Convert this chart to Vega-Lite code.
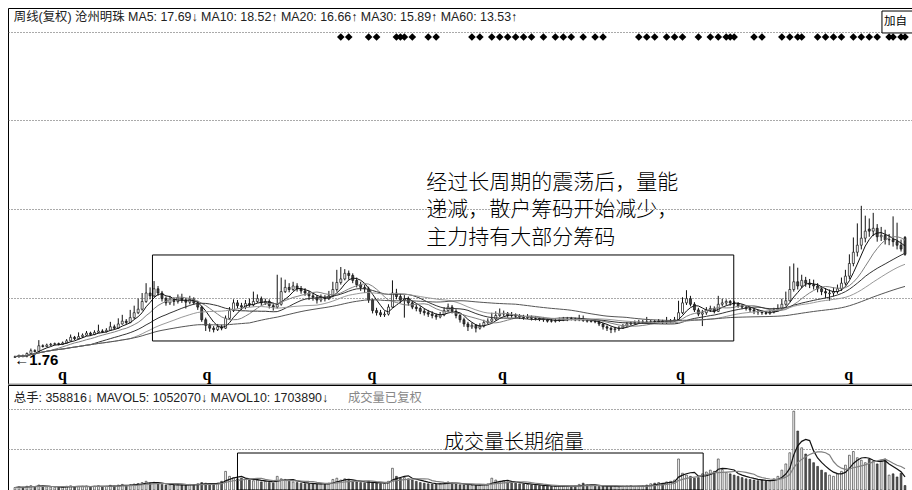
{
"$schema": "https://vega.github.io/schema/vega-lite/v6.json",
"padding": {"left": 7, "top": 7, "right": 1, "bottom": 1},
"background": "white",
"spacing": 1,
"bounds": "flush",
"config": {"view": {"stroke": "#000", "strokeWidth": 1}, "text": {"font": "Liberation Sans, Noto Sans CJK SC"}},
"datasets": {
"k": [
{"t":0,"o":1.85,"h":2.1,"l":1.76,"c":1.95,"v":20},
{"t":1,"o":1.95,"h":2.25,"l":1.8,"c":2.1,"v":25},
{"t":2,"o":2.1,"h":2.25,"l":1.85,"c":2.0,"v":22},
{"t":3,"o":2.0,"h":2.55,"l":1.85,"c":2.4,"v":30},
{"t":4,"o":2.4,"h":3.1,"l":2.3,"c":2.8,"v":35},
{"t":5,"o":2.8,"h":3.0,"l":2.55,"c":2.7,"v":28},
{"t":6,"o":2.7,"h":4.3,"l":2.6,"c":3.5,"v":40},
{"t":7,"o":3.5,"h":3.7,"l":3.25,"c":3.4,"v":30},
{"t":8,"o":3.4,"h":3.8,"l":3.3,"c":3.6,"v":26},
{"t":9,"o":3.6,"h":3.9,"l":3.45,"c":3.7,"v":24},
{"t":10,"o":3.7,"h":3.95,"l":3.55,"c":3.8,"v":22},
{"t":11,"o":3.8,"h":3.95,"l":3.55,"c":3.7,"v":20},
{"t":12,"o":3.7,"h":4.1,"l":3.6,"c":3.9,"v":26},
{"t":13,"o":3.9,"h":4.45,"l":3.8,"c":4.2,"v":30},
{"t":14,"o":4.2,"h":5.1,"l":4.1,"c":4.7,"v":34},
{"t":15,"o":4.7,"h":4.9,"l":4.3,"c":4.5,"v":25},
{"t":16,"o":4.5,"h":5.4,"l":4.4,"c":4.8,"v":28},
{"t":17,"o":4.8,"h":5.25,"l":4.6,"c":5.0,"v":30},
{"t":18,"o":5.0,"h":5.6,"l":4.9,"c":5.3,"v":32},
{"t":19,"o":5.3,"h":5.5,"l":4.9,"c":5.1,"v":26},
{"t":20,"o":5.1,"h":5.7,"l":5.0,"c":5.4,"v":30},
{"t":21,"o":5.4,"h":6.5,"l":5.3,"c":5.6,"v":34},
{"t":22,"o":5.6,"h":5.85,"l":5.3,"c":5.5,"v":28},
{"t":23,"o":5.5,"h":6.0,"l":5.4,"c":5.7,"v":30},
{"t":24,"o":5.7,"h":6.9,"l":5.6,"c":6.2,"v":38},
{"t":25,"o":6.2,"h":6.5,"l":5.8,"c":6.0,"v":32},
{"t":26,"o":6.0,"h":7.4,"l":5.9,"c":6.6,"v":40},
{"t":27,"o":6.6,"h":7.9,"l":6.5,"c":7.0,"v":45},
{"t":28,"o":7.0,"h":7.3,"l":6.5,"c":6.8,"v":36},
{"t":29,"o":6.8,"h":8.6,"l":6.7,"c":7.5,"v":42},
{"t":30,"o":7.5,"h":9.2,"l":7.3,"c":8.2,"v":48},
{"t":31,"o":8.2,"h":10.2,"l":8.0,"c":8.7,"v":52},
{"t":32,"o":8.7,"h":11.0,"l":8.5,"c":9.8,"v":60},
{"t":33,"o":9.8,"h":12.4,"l":9.6,"c":11.0,"v":70},
{"t":34,"o":11.0,"h":11.8,"l":10.1,"c":10.6,"v":55},
{"t":35,"o":10.6,"h":12.7,"l":10.4,"c":11.6,"v":62},
{"t":36,"o":11.6,"h":12.0,"l":10.6,"c":11.0,"v":50},
{"t":37,"o":11.0,"h":11.3,"l":9.8,"c":10.2,"v":45},
{"t":38,"o":10.2,"h":10.5,"l":9.2,"c":9.6,"v":40},
{"t":39,"o":9.6,"h":10.6,"l":9.3,"c":10.1,"v":42},
{"t":40,"o":10.1,"h":10.4,"l":9.2,"c":9.8,"v":38},
{"t":41,"o":9.8,"h":10.8,"l":9.5,"c":10.3,"v":44},
{"t":42,"o":10.3,"h":10.9,"l":9.6,"c":10.0,"v":40},
{"t":43,"o":10.0,"h":10.3,"l":8.8,"c":9.7,"v":36},
{"t":44,"o":9.7,"h":10.6,"l":9.4,"c":10.1,"v":45},
{"t":45,"o":10.1,"h":10.4,"l":9.3,"c":9.6,"v":42},
{"t":46,"o":9.6,"h":9.9,"l":8.6,"c":9.0,"v":50},
{"t":47,"o":9.0,"h":9.2,"l":6.9,"c":7.2,"v":60},
{"t":48,"o":7.2,"h":7.5,"l":5.6,"c":6.4,"v":55},
{"t":49,"o":6.4,"h":6.7,"l":5.5,"c":6.0,"v":48},
{"t":50,"o":6.0,"h":6.3,"l":5.4,"c":5.8,"v":45},
{"t":51,"o":5.8,"h":6.6,"l":5.6,"c":6.2,"v":55},
{"t":52,"o":6.2,"h":6.5,"l":5.7,"c":6.0,"v":70},
{"t":53,"o":6.0,"h":7.8,"l":5.9,"c":7.4,"v":150},
{"t":54,"o":7.4,"h":9.0,"l":7.2,"c":8.5,"v":110},
{"t":55,"o":8.5,"h":10.1,"l":8.3,"c":9.6,"v":100},
{"t":56,"o":9.6,"h":10.0,"l":8.8,"c":9.2,"v":90},
{"t":57,"o":9.2,"h":9.6,"l":8.6,"c":9.0,"v":95},
{"t":58,"o":9.0,"h":10.0,"l":8.7,"c":9.5,"v":85},
{"t":59,"o":9.5,"h":10.2,"l":9.0,"c":9.3,"v":80},
{"t":60,"o":9.3,"h":11.2,"l":9.1,"c":9.8,"v":75},
{"t":61,"o":9.8,"h":10.8,"l":9.6,"c":10.2,"v":80},
{"t":62,"o":10.2,"h":10.5,"l":9.2,"c":9.6,"v":65},
{"t":63,"o":9.6,"h":10.2,"l":9.3,"c":9.8,"v":70},
{"t":64,"o":9.8,"h":10.1,"l":8.8,"c":9.2,"v":60},
{"t":65,"o":9.2,"h":9.6,"l":8.5,"c":9.0,"v":55},
{"t":66,"o":9.0,"h":13.6,"l":8.8,"c":9.4,"v":110},
{"t":67,"o":9.4,"h":13.2,"l":9.2,"c":11.2,"v":90},
{"t":68,"o":11.2,"h":12.9,"l":11.0,"c":11.8,"v":85},
{"t":69,"o":11.8,"h":12.4,"l":11.1,"c":11.5,"v":70},
{"t":70,"o":11.5,"h":12.6,"l":11.3,"c":12.0,"v":65},
{"t":71,"o":12.0,"h":12.4,"l":11.2,"c":11.6,"v":60},
{"t":72,"o":11.6,"h":12.0,"l":10.9,"c":11.3,"v":55},
{"t":73,"o":11.3,"h":11.7,"l":10.6,"c":11.0,"v":50},
{"t":74,"o":11.0,"h":11.3,"l":10.0,"c":10.6,"v":48},
{"t":75,"o":10.6,"h":11.0,"l":9.9,"c":10.4,"v":52},
{"t":76,"o":10.4,"h":10.7,"l":9.5,"c":10.0,"v":45},
{"t":77,"o":10.0,"h":10.8,"l":9.7,"c":10.3,"v":50},
{"t":78,"o":10.3,"h":10.7,"l":9.8,"c":10.2,"v":46},
{"t":79,"o":10.2,"h":11.3,"l":10.0,"c":10.6,"v":55},
{"t":80,"o":10.6,"h":12.6,"l":10.4,"c":11.5,"v":85},
{"t":81,"o":11.5,"h":14.3,"l":11.2,"c":12.5,"v":95},
{"t":82,"o":12.5,"h":14.7,"l":12.2,"c":13.0,"v":80},
{"t":83,"o":13.0,"h":14.4,"l":12.8,"c":13.8,"v":90},
{"t":84,"o":13.8,"h":14.2,"l":12.9,"c":13.5,"v":75},
{"t":85,"o":13.5,"h":13.8,"l":12.4,"c":12.8,"v":70},
{"t":86,"o":12.8,"h":13.2,"l":11.8,"c":12.2,"v":65},
{"t":87,"o":12.2,"h":12.6,"l":11.3,"c":11.8,"v":60},
{"t":88,"o":11.8,"h":12.2,"l":11.0,"c":11.6,"v":55},
{"t":89,"o":11.6,"h":11.9,"l":9.6,"c":10.0,"v":70},
{"t":90,"o":10.0,"h":10.2,"l":8.1,"c":8.5,"v":60},
{"t":91,"o":8.5,"h":8.9,"l":7.8,"c":8.2,"v":55},
{"t":92,"o":8.2,"h":8.6,"l":7.6,"c":7.9,"v":50},
{"t":93,"o":7.9,"h":8.4,"l":7.6,"c":8.0,"v":52},
{"t":94,"o":8.0,"h":9.4,"l":7.8,"c":9.0,"v":70},
{"t":95,"o":9.0,"h":12.8,"l":8.9,"c":11.0,"v":175},
{"t":96,"o":11.0,"h":11.6,"l":10.1,"c":10.5,"v":110},
{"t":97,"o":10.5,"h":10.9,"l":9.6,"c":10.0,"v":95},
{"t":98,"o":10.0,"h":10.7,"l":7.5,"c":10.2,"v":100},
{"t":99,"o":10.2,"h":10.5,"l":9.2,"c":9.6,"v":90},
{"t":100,"o":9.6,"h":9.9,"l":8.7,"c":9.0,"v":80},
{"t":101,"o":9.0,"h":9.4,"l":8.4,"c":8.8,"v":70},
{"t":102,"o":8.8,"h":9.1,"l":8.0,"c":8.4,"v":60},
{"t":103,"o":8.4,"h":8.8,"l":7.8,"c":8.2,"v":55},
{"t":104,"o":8.2,"h":8.6,"l":7.6,"c":8.0,"v":50},
{"t":105,"o":8.0,"h":8.4,"l":7.4,"c":7.8,"v":48},
{"t":106,"o":7.8,"h":8.1,"l":7.2,"c":7.6,"v":45},
{"t":107,"o":7.6,"h":8.3,"l":7.4,"c":7.9,"v":52},
{"t":108,"o":7.9,"h":9.0,"l":7.7,"c":8.5,"v":60},
{"t":109,"o":8.5,"h":9.5,"l":8.3,"c":9.0,"v":65},
{"t":110,"o":9.0,"h":9.3,"l":8.1,"c":8.4,"v":55},
{"t":111,"o":8.4,"h":8.7,"l":7.4,"c":7.8,"v":48},
{"t":112,"o":7.8,"h":8.0,"l":6.8,"c":7.2,"v":42},
{"t":113,"o":7.2,"h":7.5,"l":6.2,"c":6.6,"v":40},
{"t":114,"o":6.6,"h":6.9,"l":5.6,"c":6.2,"v":45},
{"t":115,"o":6.2,"h":6.8,"l":5.9,"c":6.4,"v":38},
{"t":116,"o":6.4,"h":6.6,"l":5.4,"c":6.0,"v":35},
{"t":117,"o":6.0,"h":6.7,"l":5.8,"c":6.3,"v":40},
{"t":118,"o":6.3,"h":7.2,"l":6.1,"c":6.8,"v":45},
{"t":119,"o":6.8,"h":7.4,"l":6.6,"c":7.0,"v":50},
{"t":120,"o":7.0,"h":8.2,"l":6.8,"c":7.3,"v":95},
{"t":121,"o":7.3,"h":8.4,"l":7.1,"c":7.8,"v":80},
{"t":122,"o":7.8,"h":8.8,"l":7.6,"c":8.0,"v":70},
{"t":123,"o":8.0,"h":8.5,"l":7.7,"c":8.1,"v":75},
{"t":124,"o":8.1,"h":8.3,"l":7.5,"c":7.8,"v":65},
{"t":125,"o":7.85,"h":8.3,"l":7.5,"c":7.8,"v":60},
{"t":126,"o":7.8,"h":8.1,"l":7.4,"c":7.7,"v":55},
{"t":127,"o":7.7,"h":8.0,"l":7.3,"c":7.6,"v":50},
{"t":128,"o":7.6,"h":7.9,"l":7.2,"c":7.5,"v":48},
{"t":129,"o":7.5,"h":8.0,"l":7.3,"c":7.6,"v":45},
{"t":130,"o":7.6,"h":7.8,"l":7.1,"c":7.4,"v":40},
{"t":131,"o":7.45,"h":7.7,"l":7.1,"c":7.4,"v":38},
{"t":132,"o":7.4,"h":7.6,"l":7.0,"c":7.3,"v":35},
{"t":133,"o":7.3,"h":7.6,"l":6.9,"c":7.2,"v":32},
{"t":134,"o":7.2,"h":7.4,"l":6.8,"c":7.0,"v":30},
{"t":135,"o":7.05,"h":7.3,"l":6.8,"c":7.0,"v":28},
{"t":136,"o":7.0,"h":7.4,"l":6.8,"c":7.1,"v":30},
{"t":137,"o":7.1,"h":7.5,"l":6.9,"c":7.2,"v":32},
{"t":138,"o":7.2,"h":7.6,"l":7.0,"c":7.3,"v":35},
{"t":139,"o":7.25,"h":7.6,"l":7.0,"c":7.3,"v":30},
{"t":140,"o":7.35,"h":7.6,"l":7.1,"c":7.3,"v":28},
{"t":141,"o":7.3,"h":7.5,"l":7.0,"c":7.2,"v":30},
{"t":142,"o":7.2,"h":7.9,"l":7.0,"c":7.3,"v":45},
{"t":143,"o":7.3,"h":7.8,"l":6.9,"c":7.1,"v":55},
{"t":144,"o":7.1,"h":7.3,"l":6.8,"c":7.0,"v":40},
{"t":145,"o":6.95,"h":7.2,"l":6.8,"c":7.0,"v":35},
{"t":146,"o":7.0,"h":7.2,"l":6.7,"c":6.9,"v":30},
{"t":147,"o":6.9,"h":7.0,"l":6.3,"c":6.6,"v":28},
{"t":148,"o":6.6,"h":6.7,"l":5.8,"c":6.2,"v":32},
{"t":149,"o":6.2,"h":6.4,"l":5.6,"c":6.0,"v":35},
{"t":150,"o":6.0,"h":6.2,"l":5.3,"c":5.8,"v":30},
{"t":151,"o":5.8,"h":6.2,"l":5.4,"c":5.9,"v":28},
{"t":152,"o":5.9,"h":6.3,"l":5.6,"c":6.0,"v":25},
{"t":153,"o":6.0,"h":6.6,"l":5.9,"c":6.3,"v":30},
{"t":154,"o":6.3,"h":6.9,"l":6.2,"c":6.6,"v":32},
{"t":155,"o":6.6,"h":7.0,"l":6.4,"c":6.7,"v":35},
{"t":156,"o":6.7,"h":7.1,"l":6.5,"c":6.8,"v":30},
{"t":157,"o":6.8,"h":7.2,"l":6.6,"c":6.9,"v":28},
{"t":158,"o":6.85,"h":7.2,"l":6.6,"c":6.9,"v":32},
{"t":159,"o":6.9,"h":7.6,"l":6.6,"c":6.8,"v":40},
{"t":160,"o":6.8,"h":7.2,"l":6.6,"c":6.9,"v":50},
{"t":161,"o":6.95,"h":7.2,"l":6.6,"c":6.9,"v":55},
{"t":162,"o":6.9,"h":7.3,"l":6.7,"c":7.0,"v":60},
{"t":163,"o":7.0,"h":7.2,"l":6.6,"c":6.9,"v":55},
{"t":164,"o":6.85,"h":7.6,"l":6.6,"c":6.9,"v":65},
{"t":165,"o":6.9,"h":7.3,"l":6.7,"c":7.0,"v":70},
{"t":166,"o":7.0,"h":7.6,"l":6.9,"c":7.2,"v":80},
{"t":167,"o":7.2,"h":9.9,"l":7.1,"c":8.2,"v":250},
{"t":168,"o":8.2,"h":10.4,"l":8.0,"c":9.6,"v":135},
{"t":169,"o":9.6,"h":11.4,"l":9.3,"c":10.2,"v":120},
{"t":170,"o":10.2,"h":10.6,"l":9.1,"c":9.4,"v":110},
{"t":171,"o":9.4,"h":9.7,"l":8.3,"c":8.6,"v":95},
{"t":172,"o":8.6,"h":8.9,"l":7.7,"c":8.0,"v":100},
{"t":173,"o":8.0,"h":8.6,"l":6.3,"c":8.2,"v":130},
{"t":174,"o":8.2,"h":9.0,"l":7.9,"c":8.6,"v":145},
{"t":175,"o":8.6,"h":9.2,"l":8.3,"c":8.8,"v":160},
{"t":176,"o":8.8,"h":9.1,"l":8.1,"c":8.4,"v":150},
{"t":177,"o":8.4,"h":10.6,"l":8.3,"c":9.4,"v":250},
{"t":178,"o":9.4,"h":10.2,"l":9.1,"c":9.6,"v":165},
{"t":179,"o":9.6,"h":10.1,"l":9.3,"c":9.8,"v":140},
{"t":180,"o":9.8,"h":10.0,"l":9.2,"c":9.6,"v":130},
{"t":181,"o":9.6,"h":9.9,"l":9.2,"c":9.5,"v":120},
{"t":182,"o":9.5,"h":9.7,"l":8.9,"c":9.2,"v":110},
{"t":183,"o":9.2,"h":9.4,"l":8.7,"c":9.0,"v":100},
{"t":184,"o":9.0,"h":9.2,"l":8.5,"c":8.8,"v":90},
{"t":185,"o":8.8,"h":9.0,"l":8.3,"c":8.6,"v":85},
{"t":186,"o":8.6,"h":8.8,"l":8.0,"c":8.4,"v":80},
{"t":187,"o":8.4,"h":8.6,"l":7.9,"c":8.3,"v":75},
{"t":188,"o":8.3,"h":8.5,"l":7.9,"c":8.2,"v":80},
{"t":189,"o":8.2,"h":8.4,"l":7.9,"c":8.1,"v":70},
{"t":190,"o":8.1,"h":8.6,"l":7.9,"c":8.3,"v":75},
{"t":191,"o":8.3,"h":8.9,"l":8.1,"c":8.6,"v":90},
{"t":192,"o":8.6,"h":9.4,"l":8.4,"c":8.8,"v":110},
{"t":193,"o":8.8,"h":10.2,"l":8.6,"c":9.4,"v":160},
{"t":194,"o":9.4,"h":11.2,"l":9.2,"c":9.9,"v":210},
{"t":195,"o":9.9,"h":14.8,"l":9.8,"c":11.5,"v":300},
{"t":196,"o":11.5,"h":15.2,"l":11.2,"c":12.6,"v":635},
{"t":197,"o":12.6,"h":14.6,"l":11.5,"c":12.0,"v":475},
{"t":198,"o":12.0,"h":13.6,"l":11.7,"c":12.8,"v":340},
{"t":199,"o":12.8,"h":13.3,"l":11.9,"c":12.4,"v":290},
{"t":200,"o":12.4,"h":13.0,"l":11.7,"c":12.2,"v":250},
{"t":201,"o":12.2,"h":12.9,"l":11.5,"c":12.0,"v":220},
{"t":202,"o":12.0,"h":12.4,"l":11.1,"c":11.6,"v":190},
{"t":203,"o":11.6,"h":12.0,"l":10.7,"c":11.2,"v":160},
{"t":204,"o":11.2,"h":11.7,"l":10.3,"c":11.0,"v":140},
{"t":205,"o":10.9,"h":11.5,"l":9.9,"c":11.0,"v":120},
{"t":206,"o":11.0,"h":11.8,"l":10.5,"c":11.2,"v":110},
{"t":207,"o":11.2,"h":12.2,"l":10.9,"c":11.6,"v":130},
{"t":208,"o":11.6,"h":13.2,"l":11.3,"c":12.4,"v":150},
{"t":209,"o":12.4,"h":14.3,"l":12.1,"c":13.4,"v":200},
{"t":210,"o":13.4,"h":16.5,"l":13.0,"c":15.2,"v":280},
{"t":211,"o":15.2,"h":18.9,"l":14.8,"c":16.8,"v":310},
{"t":212,"o":16.8,"h":20.9,"l":16.2,"c":17.8,"v":260},
{"t":213,"o":17.8,"h":23.4,"l":17.2,"c":18.8,"v":240},
{"t":214,"o":18.8,"h":22.0,"l":18.2,"c":19.8,"v":220},
{"t":215,"o":20.1,"h":21.6,"l":19.0,"c":19.8,"v":250},
{"t":216,"o":19.8,"h":22.4,"l":19.1,"c":20.2,"v":230},
{"t":217,"o":20.2,"h":20.8,"l":18.3,"c":19.0,"v":210},
{"t":218,"o":19.0,"h":20.4,"l":18.4,"c":19.2,"v":240},
{"t":219,"o":19.2,"h":20.0,"l":17.9,"c":18.55,"v":250},
{"t":220,"o":18.55,"h":19.4,"l":17.8,"c":18.6,"v":120},
{"t":221,"o":18.6,"h":21.9,"l":17.6,"c":18.3,"v":130},
{"t":222,"o":18.3,"h":21.0,"l":17.2,"c":17.8,"v":105},
{"t":223,"o":17.8,"h":18.6,"l":16.9,"c":17.25,"v":135},
{"t":224,"o":18.9,"h":19.1,"l":16.3,"c":16.5,"v":36}
],
"sig": [{"t":82},{"t":84},{"t":89},{"t":91},{"t":96},{"t":97},{"t":98},{"t":100},{"t":104},{"t":106},{"t":115},{"t":117},{"t":120},{"t":122},{"t":124},{"t":126},{"t":128},{"t":130},{"t":133},{"t":136},{"t":138},{"t":140},{"t":143},{"t":146},{"t":148},{"t":157},{"t":159},{"t":161},{"t":164},{"t":166},{"t":168},{"t":172},{"t":175},{"t":177},{"t":179},{"t":180},{"t":181},{"t":186},{"t":188},{"t":193},{"t":195},{"t":197},{"t":198},{"t":202},{"t":204},{"t":206},{"t":208},{"t":211},{"t":213},{"t":215},{"t":217},{"t":220},{"t":221},{"t":223},{"t":224}],
"qm": [{"t":11.94},{"t":48.3},{"t":89.85},{"t":122.7},{"t":167.5},{"t":209.8}]
},
"vconcat": [
{
"width": 904, "height": 376,
"layer": [
{"data": {"name": "k"}, "mark": {"type": "rule", "color": "#111", "strokeWidth": 1},
 "encoding": {
  "x": {"field": "t", "type": "quantitative", "scale": {"domain": [-0.5, 224.5], "nice": false, "zero": false}, "axis": {"title": null, "labels": false, "ticks": false, "grid": false, "domainColor": "#999", "domainWidth": 2}},
  "y": {"field": "l", "type": "quantitative", "scale": {"domain": [-1.937, 51.53], "nice": false, "zero": false}, "axis": {"title": null, "labels": false, "ticks": false, "domain": false, "grid": true, "values": [10.29, 22.95, 35.6, 48.12], "gridColor": "#555", "gridDash": [1, 2], "gridWidth": 1}},
  "y2": {"field": "h"}
 }},
{"data": {"name": "k"}, "mark": {"type": "bar", "width": 2, "stroke": "#111", "strokeWidth": 0.7},
 "encoding": {
  "x": {"field": "t", "type": "quantitative"},
  "y": {"field": "o", "type": "quantitative"},
  "y2": {"field": "c"},
  "fill": {"condition": {"test": "datum.c >= datum.o", "value": "#ffffff"}, "value": "#444444"}
 }},
{"data": {"name": "k"},
 "transform": [
  {"window": [{"op": "mean", "field": "c", "as": "MA5"}], "frame": [-4, 0], "sort": [{"field": "t"}]},
  {"window": [{"op": "mean", "field": "c", "as": "MA10"}], "frame": [-9, 0], "sort": [{"field": "t"}]},
  {"window": [{"op": "mean", "field": "c", "as": "MA20"}], "frame": [-19, 0], "sort": [{"field": "t"}]},
  {"window": [{"op": "mean", "field": "c", "as": "MA30"}], "frame": [-29, 0], "sort": [{"field": "t"}]},
  {"window": [{"op": "mean", "field": "c", "as": "MA60"}], "frame": [-59, 0], "sort": [{"field": "t"}]},
  {"fold": ["MA5", "MA10", "MA20", "MA30", "MA60"], "as": ["ma", "val"]}
 ],
 "mark": {"type": "line", "strokeWidth": 1},
 "encoding": {
  "x": {"field": "t", "type": "quantitative"},
  "y": {"field": "val", "type": "quantitative"},
  "color": {"field": "ma", "type": "nominal", "scale": {"domain": ["MA5", "MA10", "MA20", "MA30", "MA60"], "range": ["#111111", "#808080", "#333333", "#999999", "#555555"]}, "legend": null},
  "strokeWidth": {"field": "ma", "type": "nominal", "scale": {"domain": ["MA5", "MA10", "MA20", "MA30", "MA60"], "range": [1, 1.4, 1, 1.4, 1.4]}, "legend": null}
 }},
{"data": {"name": "sig"}, "mark": {"type": "point", "shape": "diamond", "filled": true, "color": "#000", "size": 58, "opacity": 1},
 "encoding": {
  "x": {"field": "t", "type": "quantitative"},
  "y": {"datum": 47.4, "type": "quantitative"}
 }},
{"data": {"name": "qm"}, "mark": {"type": "text", "text": "q", "font": "Liberation Serif", "fontWeight": "bold", "fontSize": 16, "align": "center", "baseline": "alphabetic", "color": "#000"},
 "encoding": {
  "x": {"field": "t", "type": "quantitative"},
  "y": {"datum": -1.37, "type": "quantitative"}
 }},
{"data": {"values": [{}]}, "mark": {"type": "rect", "fill": null, "fillOpacity": 0, "stroke": "#000", "strokeWidth": 1},
 "encoding": {
  "x": {"datum": 34.6, "type": "quantitative"}, "x2": {"datum": 180.9},
  "y": {"datum": 4.18, "type": "quantitative"}, "y2": {"datum": 16.41}
 }},
{"data": {"values": [{}]}, "mark": {"type": "text", "text": ["经过长周期的震荡后，量能", "递减，散户筹码开始减少，", "主力持有大部分筹码"], "font": "Noto Sans CJK SC", "fontWeight": 300, "fontSize": 21, "lineHeight": 27.5, "align": "left", "baseline": "alphabetic", "color": "#000"},
 "encoding": {
  "x": {"datum": 103.5, "type": "quantitative"},
  "y": {"datum": 25.85, "type": "quantitative"}
 }},
{"data": {"values": [{}]}, "mark": {"type": "text", "text": "周线(复权) 沧州明珠 MA5: 17.69↓ MA10: 18.52↑ MA20: 16.66↑ MA30: 15.89↑ MA60: 13.53↑", "fontSize": 12.4, "align": "left", "baseline": "middle", "color": "#222"},
 "encoding": {
  "x": {"datum": -0.3, "type": "quantitative"},
  "y": {"datum": 50.3, "type": "quantitative"}
 }},
{"data": {"values": [{}]}, "mark": {"type": "rect", "fill": "#fff", "stroke": "#000", "strokeWidth": 1},
 "encoding": {
  "x": {"datum": 218.2, "type": "quantitative"}, "x2": {"datum": 226},
  "y": {"datum": 47.98, "type": "quantitative"}, "y2": {"datum": 51.1}
 }},
{"data": {"values": [{}]}, "mark": {"type": "text", "text": "加自", "fontSize": 11.5, "align": "left", "baseline": "middle", "color": "#000", "font": "Noto Sans CJK SC"},
 "encoding": {
  "x": {"datum": 218.7, "type": "quantitative"},
  "y": {"datum": 49.55, "type": "quantitative"}
 }},
{"data": {"values": [{}]}, "mark": {"type": "text", "text": "←1.76", "fontSize": 15, "fontWeight": "bold", "align": "left", "baseline": "alphabetic", "color": "#000"},
 "encoding": {
  "x": {"datum": -0.2, "type": "quantitative"},
  "y": {"datum": 0.76, "type": "quantitative"}
 }}
]
},
{
"width": 904, "height": 105,
"layer": [
{"data": {"name": "k"}, "mark": {"type": "bar", "width": 1.8, "stroke": "#222", "strokeWidth": 0.6},
 "encoding": {
  "x": {"field": "t", "type": "quantitative", "scale": {"domain": [-0.5, 224.5], "nice": false, "zero": false}, "axis": null},
  "y": {"field": "v", "type": "quantitative", "scale": {"domain": [0, 846], "nice": false}, "axis": {"title": null, "labels": false, "ticks": false, "domain": false, "grid": true, "values": [330, 653], "gridColor": "#555", "gridDash": [1, 2], "gridWidth": 1}},
  "fill": {"condition": {"test": "datum.c >= datum.o", "value": "#ffffff"}, "value": "#555555"}
 }},
{"data": {"name": "k"},
 "transform": [
  {"window": [{"op": "mean", "field": "v", "as": "MAVOL5"}], "frame": [-4, 0], "sort": [{"field": "t"}]},
  {"window": [{"op": "mean", "field": "v", "as": "MAVOL10"}], "frame": [-9, 0], "sort": [{"field": "t"}]},
  {"fold": ["MAVOL5", "MAVOL10"], "as": ["mv", "val"]}
 ],
 "mark": {"type": "line", "strokeWidth": 1.2},
 "encoding": {
  "x": {"field": "t", "type": "quantitative"},
  "y": {"field": "val", "type": "quantitative"},
  "color": {"field": "mv", "type": "nominal", "scale": {"domain": ["MAVOL5", "MAVOL10"], "range": ["#888888", "#111111"]}, "legend": null}
 }},
{"data": {"values": [{}]}, "mark": {"type": "rect", "fill": null, "fillOpacity": 0, "stroke": "#000", "strokeWidth": 1},
 "encoding": {
  "x": {"datum": 56.0, "type": "quantitative"}, "x2": {"datum": 173.2},
  "y": {"datum": 0, "type": "quantitative"}, "y2": {"datum": 298}
 }},
{"data": {"values": [{}]}, "mark": {"type": "text", "text": "成交量长期缩量", "font": "Noto Sans CJK SC", "fontWeight": 300, "fontSize": 20, "align": "left", "baseline": "alphabetic", "color": "#000"},
 "encoding": {
  "x": {"datum": 108.0, "type": "quantitative"},
  "y": {"datum": 328, "type": "quantitative"}
 }},
{"data": {"values": [{}]}, "mark": {"type": "text", "text": "总手: 358816↓ MAVOL5: 1052070↓ MAVOL10: 1703890↓", "fontSize": 12.4, "align": "left", "baseline": "middle", "color": "#222"},
 "encoding": {
  "x": {"datum": -0.3, "type": "quantitative"},
  "y": {"datum": 741, "type": "quantitative"}
 }},
{"data": {"values": [{}]}, "mark": {"type": "text", "text": "成交量已复权", "fontSize": 12.3, "align": "left", "baseline": "middle", "color": "#888", "font": "Noto Sans CJK SC"},
 "encoding": {
  "x": {"datum": 83.8, "type": "quantitative"},
  "y": {"datum": 741, "type": "quantitative"}
 }}
]
}
]
}
